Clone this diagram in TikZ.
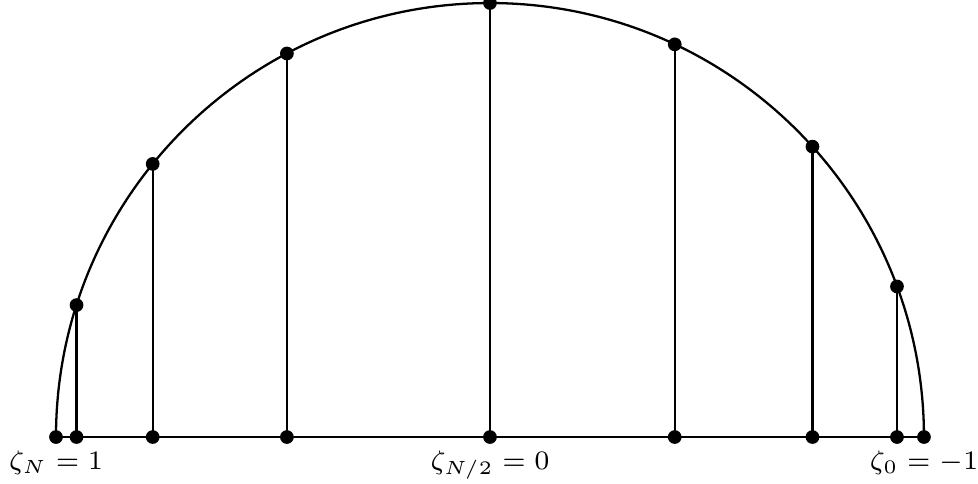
\documentclass[tikz,border=0pt]{standalone}
\usepackage{amsmath,amssymb}
\usepackage{tikz}

\begin{document}
\begin{tikzpicture}[line width=0.6pt]
    \useasboundingbox (-4.516,-0.424) rectangle (4.498,4.028);
    \coordinate (zr) at (4,0);
    \coordinate (zl) at (-4,0);
    \coordinate (zm) at (0,0);
    \draw (zl) -- (zr);
    \draw (zr) arc[start angle=0, end angle=180, radius=4];
    \foreach \a [count=\i] in {162.3,141,117.9,90,64.8,42,20.3} {
        \coordinate (p\i) at (\a:4);
        \coordinate (f\i) at (p\i |- zm);
        \draw (p\i) -- (f\i);
        \fill (p\i) circle (1.8pt);
        \fill (f\i) circle (1.8pt);
      }
    \foreach \p in {zl,zr} {
        \fill (\p) circle (1.8pt);
      }
    \node[below] (lN) at (zl) {\scriptsize $\zeta_N = 1$};
    \node[below] (lM) at (zm) {\scriptsize $\zeta_{N/2} = 0$};
    \node[below] (l0) at (zr) {\scriptsize $\zeta_0 = -1$};
  \end{tikzpicture}
\end{document}
